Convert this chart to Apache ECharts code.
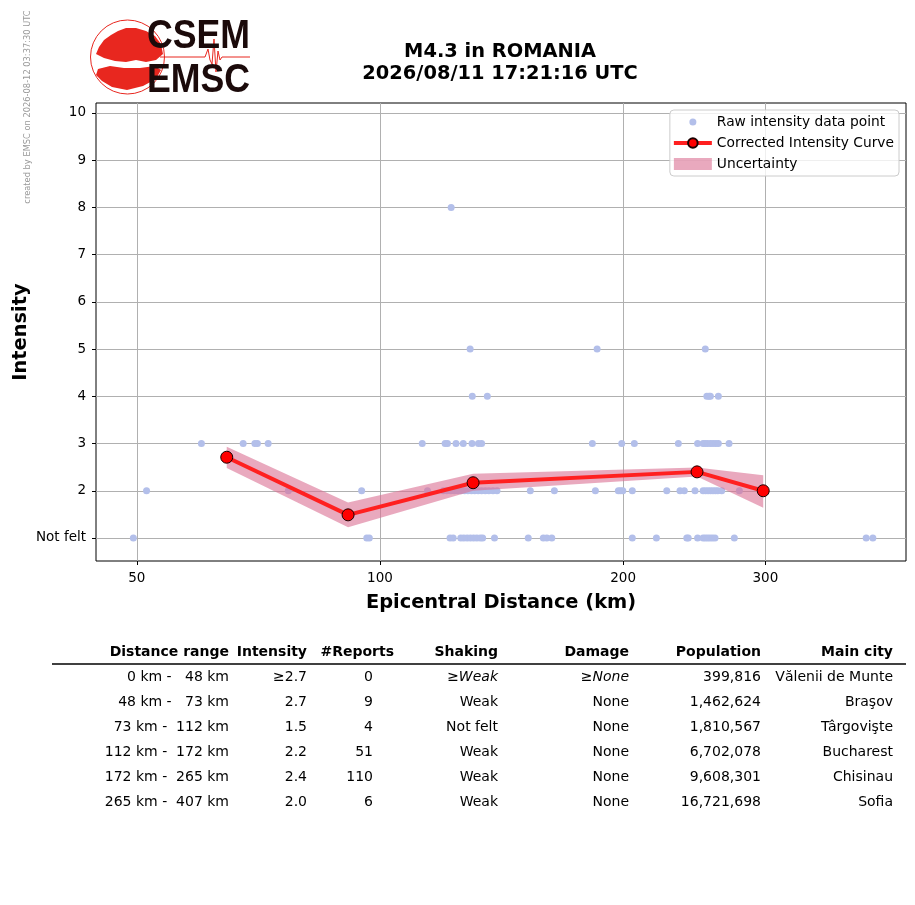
<!DOCTYPE html>
<html>
<head>
<meta charset="utf-8">
<script src="https://cdn.jsdelivr.net/npm/echarts@6/dist/echarts.min.js"></script>
<style>html,body{margin:0;padding:0;background:#fff}#main{width:915px;height:905px}</style>
</head>
<body>
<div id="main"></div>
<script>
// raw intensity reports, grouped by intensity level (distance in km)
var distNotFelt = [49.5, 96.3, 97.0, 122.1, 123.2, 125.9, 127.0, 128.2, 129.4, 130.6, 131.8, 133.1, 134.0, 138.6,
    152.6, 159.3, 160.9, 163.2, 205.3, 219.9, 239.8, 240.8, 247.3, 251.2, 252.8, 254.5, 256.2, 258.0, 259.9, 274.6, 399.9, 407.6];
var distI2 = [51.4, 77.0, 94.9, 114.5, 119.8, 121.0, 122.4, 123.6, 124.8, 126.0, 127.3, 128.5, 129.8, 131.0, 132.3, 133.6,
    135.0, 136.4, 138.0, 139.6, 153.5, 164.4, 184.8, 197.3, 198.5, 199.8, 205.3, 226.5, 235.2, 238.1, 245.5,
    251.2, 253.0, 254.8, 256.6, 258.4, 260.2, 262.0, 264.9, 278.6];
var distI3 = [60.1, 67.7, 70.0, 70.5, 72.7, 112.8, 120.4, 121.2, 124.2, 126.8, 130.0, 132.4, 133.6, 183.2, 199.2, 206.5,
    234.1, 247.3, 251.2, 252.8, 254.5, 256.6, 258.5, 260.5, 262.4, 270.5];
var distI4 = [130.1, 135.8, 253.9, 255.5, 256.5, 262.4];
var distI5 = [129.3, 185.7, 252.8];
var distI8 = [122.5];

// corrected intensity curve and its uncertainty band
var curveDist = [64.6, 91.3, 130.4, 246.9, 298.2];
var curveInt = [2.71, 1.49, 2.17, 2.40, 2.00];
var bandUpper = [2.93, 1.75, 2.36, 2.49, 2.33];
var bandLower = [2.48, 1.23, 2.00, 2.30, 1.64];

var xTicks = [50, 100, 200, 300];
var yTicks = [1, 2, 3, 4, 5, 6, 7, 8, 9, 10];

// summary table
var tableHeader = ['Distance range', 'Intensity', '#Reports', 'Shaking', 'Damage', 'Population', 'Main city'];
var distRanges = ['0 km -   48 km', '48 km -   73 km', '73 km -  112 km', '112 km -  172 km', '172 km -  265 km', '265 km -  407 km'];
var rangeIntensity = ['≥2.7', '2.7', '1.5', '2.2', '2.4', '2.0'];
var rangeReports = ['0', '9', '4', '51', '110', '6'];
var rangeShaking = ['≥Weak', 'Weak', 'Not felt', 'Weak', 'Weak', 'Weak'];
var rangeDamage = ['≥None', 'None', 'None', 'None', 'None', 'None'];
var rangePopulation = ['399,816', '1,462,624', '1,810,567', '6,702,078', '9,608,301', '16,721,698'];
var rangeCity = ['Vălenii de Munte', 'Braşov', 'Târgovişte', 'Bucharest', 'Chisinau', 'Sofia'];

var FONT = 'DejaVu Sans';
var rawPoints = [];
[[1, distNotFelt], [2, distI2], [3, distI3], [4, distI4], [5, distI5], [8, distI8]].forEach(function (g) {
    g[1].forEach(function (d) { rawPoints.push([d, g[0]]); });
});

var graphics = [];

// watermark
graphics.push({
    type: 'text', x: 28, y: 107, rotation: Math.PI / 2,
    style: { text: 'created by EMSC on 2026-08-12 03:37:30 UTC', fontSize: 8.3, fontFamily: FONT, fill: '#999',
        textAlign: 'center', textVerticalAlign: 'middle' }
});

// logo
graphics.push({ type: 'circle', shape: { cx: 127.5, cy: 57, r: 37 }, style: { fill: '#fff', stroke: '#e8271f', lineWidth: 1 } });
graphics.push({ type: 'polygon', shape: { points: [[99, 47], [104, 40], [111, 35], [118, 31], [126, 28], [136, 28], [146, 31],
    [155, 36], [161, 44], [163, 54], [156, 60], [146, 62], [136, 60], [126, 62], [115, 61], [104, 58], [96, 54]] },
    style: { fill: '#e8271f' } });
graphics.push({ type: 'polygon', shape: { points: [[98, 69], [110, 66], [124, 68], [140, 68], [155, 66], [161, 70], [156, 79],
    [143, 86], [127, 90], [112, 87], [102, 81], [96, 75]] }, style: { fill: '#e8271f' } });
graphics.push({ type: 'polyline', shape: { points: [[160, 57], [205, 57], [208, 49], [210, 60], [212, 64], [214, 39], [216, 72],
    [218, 51], [220, 60], [222, 57], [250, 57]] }, style: { stroke: '#e8271f', lineWidth: 1, fill: null } });
graphics.push({ type: 'text', x: 147, y: 37, scaleX: 0.87,
    style: { text: 'CSEM', fontSize: 41, fontWeight: 'bold', fontFamily: 'Liberation Sans', fill: '#1b0a0a', textVerticalAlign: 'middle' } });
graphics.push({ type: 'text', x: 147, y: 81, scaleX: 0.87,
    style: { text: 'EMSC', fontSize: 41, fontWeight: 'bold', fontFamily: 'Liberation Sans', fill: '#1b0a0a', textVerticalAlign: 'middle' } });

// table
var colRight = [229, 307, 373, 498, 629, 761, 893];
var headRight = [229, 307, 394, 498, 629, 761, 893];
tableHeader.forEach(function (h, c) {
    graphics.push({ type: 'text', x: headRight[c], y: 652,
        style: { text: h, fontSize: 14, fontWeight: 'bold', fontFamily: FONT, fill: '#000', textAlign: 'right', textVerticalAlign: 'middle' } });
});
graphics.push({ type: 'line', shape: { x1: 52, y1: 664, x2: 906, y2: 664 }, style: { stroke: '#000', lineWidth: 1.5 } });

function cellText(s) {
    if (s.charAt(0) === '≥' && isNaN(parseFloat(s.slice(1)))) {
        return '{n|≥}{i|' + s.slice(1) + '}';
    }
    return s;
}
var columns = [distRanges, rangeIntensity, rangeReports, rangeShaking, rangeDamage, rangePopulation, rangeCity];
columns.forEach(function (col, c) {
    col.forEach(function (s, r) {
        graphics.push({ type: 'text', x: colRight[c], y: 677 + r * 25,
            style: { text: cellText(s), fontSize: 14, fontFamily: FONT, fill: '#000', textAlign: 'right', textVerticalAlign: 'middle',
                rich: { n: { fontSize: 14, fontFamily: FONT, fill: '#000' },
                        i: { fontSize: 14, fontFamily: FONT, fontStyle: 'italic', fill: '#000' } } } });
    });
});

var chart = echarts.init(document.getElementById('main'));

var option = {
    animation: false,
    backgroundColor: '#fff',
    textStyle: { fontFamily: FONT },
    title: {
        text: 'M4.3 in ROMANIA\n2026/08/11 17:21:16 UTC',
        left: 500, top: 41, padding: 0, textAlign: 'center',
        textStyle: { fontSize: 19.4, fontWeight: 'bold', fontFamily: FONT, lineHeight: 22, color: '#000' }
    },
    grid: { left: 96, top: 103, width: 810, height: 458, show: true, borderColor: '#000', borderWidth: 1,
        backgroundColor: 'transparent', containLabel: false, outerBoundsMode: 'none' },
    legend: {
        orient: 'vertical', right: 16, top: 110,
        backgroundColor: 'rgba(255,255,255,0.8)', borderColor: '#ccc', borderWidth: 1, borderRadius: 4,
        padding: [4, 5, 4, 2], itemGap: 5, itemWidth: 38, itemHeight: 12,
        textStyle: { fontSize: 13.8, fontFamily: FONT, color: '#000', lineHeight: 16 },
        data: [
            { name: 'Raw intensity data point', icon: 'path://M0,0M38,12M15.5,6a3.5,3.5 0 1,0 7,0a3.5,3.5 0 1,0 -7,0' },
            { name: 'Corrected Intensity Curve', lineStyle: { width: 4, color: '#ff2020' } },
            { name: 'Uncertainty', icon: 'rect' }
        ]
    },
    xAxis: {
        type: 'log', logBase: 10, min: 44.5, max: 448,
        name: 'Epicentral Distance (km)', nameLocation: 'middle', nameGap: 32,
        nameTextStyle: { fontSize: 19.4, fontWeight: 'bold', fontFamily: FONT, color: '#000' },
        axisLine: { show: false },
        axisTick: { show: true, customValues: xTicks, length: 4, lineStyle: { color: '#000' } },
        axisLabel: { customValues: xTicks, fontSize: 13.5, color: '#000', margin: 10 },
        splitLine: { show: true, lineStyle: { color: '#b0b0b0', width: 1 } },
        minorTick: { show: false }, minorSplitLine: { show: false }
    },
    yAxis: {
        type: 'value', min: 0.513, max: 10.21,
        name: 'Intensity', nameLocation: 'middle', nameGap: 66, nameRotate: 90, nameMoveOverlap: false,
        nameTextStyle: { fontSize: 19.4, fontWeight: 'bold', fontFamily: FONT, color: '#000' },
        axisLine: { show: false },
        axisTick: { show: true, customValues: yTicks, length: 4, lineStyle: { color: '#000' } },
        axisLabel: { customValues: yTicks, fontSize: 13.5, color: '#000', margin: 10,
            formatter: function (v) { return v === 1 ? 'Not felt' : String(v); } },
        splitLine: { show: true, lineStyle: { color: '#b0b0b0', width: 1 } }
    },
    series: [
        {
            name: 'Raw intensity data point', type: 'scatter', data: rawPoints, z: 2,
            symbol: 'circle', symbolSize: 7, itemStyle: { color: '#b3bfea', opacity: 1 }
        },
        {
            name: 'Uncertainty', type: 'custom', z: 3,
            data: curveDist.map(function (d, i) { return [d, bandLower[i], bandUpper[i]]; }),
            encode: { x: 0, y: [1, 2] },
            itemStyle: { color: 'rgba(219,112,147,0.6)' },
            renderItem: function (params, api) {
                if (params.dataIndex !== 0) return null;
                var pts = [], i;
                for (i = 0; i < curveDist.length; i++) pts.push(api.coord([curveDist[i], bandUpper[i]]));
                for (i = curveDist.length - 1; i >= 0; i--) pts.push(api.coord([curveDist[i], bandLower[i]]));
                return { type: 'polygon', shape: { points: pts }, style: { fill: 'rgba(219,112,147,0.6)' } };
            }
        },
        {
            name: 'Corrected Intensity Curve', type: 'line', z: 4,
            data: curveDist.map(function (d, i) { return [d, curveInt[i]]; }),
            symbol: 'circle', symbolSize: 12, showAllSymbol: true,
            lineStyle: { color: '#ff2020', width: 4 },
            itemStyle: { color: '#ff0000', borderColor: '#1a0000', borderWidth: 1 }
        }
    ],
    graphic: graphics
};

chart.setOption(option);
</script>
</body>
</html>
